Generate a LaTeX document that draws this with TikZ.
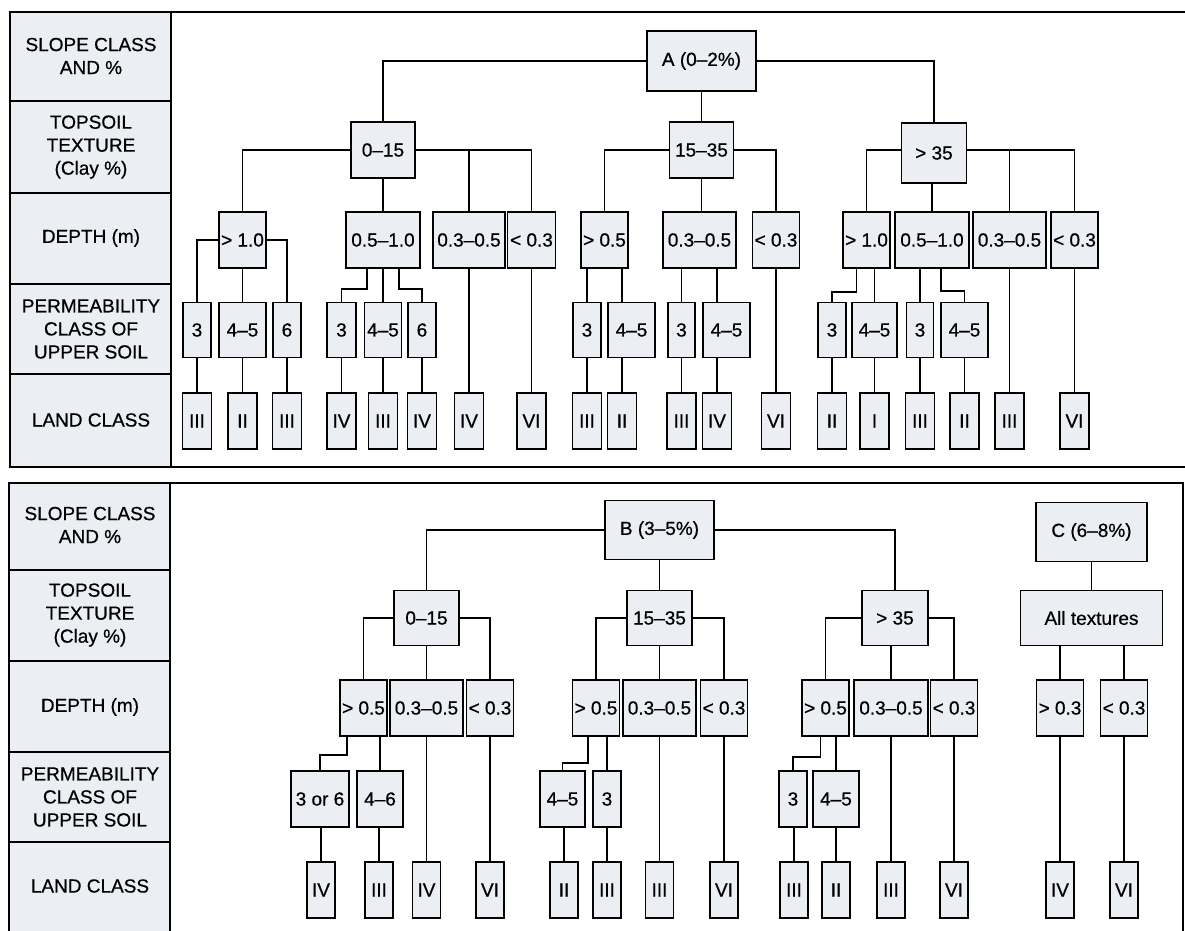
\documentclass[tikz,border=0pt]{standalone}
\usepackage{fontspec}
\setmainfont[FakeBold=0.6]{Liberation Sans}
\usepackage{tikz}
\definecolor{cellgray}{RGB}{235,238,242}
\tikzset{
  cell/.style={draw, line width=1.6pt, fill=cellgray, minimum height=56, inner sep=2pt, outer sep=0pt, font=\fontsize{19}{23}\selectfont},
  head/.style={align=center, font=\fontsize{19}{23}\selectfont},
  link/.style={line width=1.4pt},
  frame/.style={line width=2.4pt}
}

\begin{document}
\begin{tikzpicture}[x=1pt, y=-1pt]
  \useasboundingbox (0,0) rectangle (1185,930);
  % Panels
  \fill[cellgray] (10,12) rectangle (171,467);
  \fill[cellgray] (9,483) rectangle (170,940);
  \draw[frame] (10,12) rectangle (1195,467);
  \draw[frame] (9,483) rectangle (1183,940);
  \draw[frame] (171,12) -- (171,467);
  \draw[frame] (170,483) -- (170,940);
  \foreach \y in {101,193,284,374} \draw[frame] (10,\y) -- (171,\y);
  \foreach \y in {570,661,752,842} \draw[frame] (9,\y) -- (170,\y);
  % Row headings
  \node[head] (h1) at (91,56) {SLOPE CLASS\\AND \%};
  \node[head] (h2) at (91,147) {TOPSOIL\\TEXTURE\\(Clay \%)};
  \node[head] (h3) at (91,238) {DEPTH (m)};
  \node[head] (h4) at (91,329) {PERMEABILITY\\CLASS OF\\UPPER SOIL};
  \node[head] (h5) at (91,420) {LAND CLASS};
  \node[head] (k1) at (90,525) {SLOPE CLASS\\AND \%};
  \node[head] (k2) at (90,615) {TOPSOIL\\TEXTURE\\(Clay \%)};
  \node[head] (k3) at (90,707) {DEPTH (m)};
  \node[head] (k4) at (90,797) {PERMEABILITY\\CLASS OF\\UPPER SOIL};
  \node[head] (k5) at (90,886) {LAND CLASS};

  % Slope A
  \node[cell, minimum width=109, minimum height=60] (A) at (701.5,61) {A (0–2\%)};
  \foreach \n/\x/\t in {t1/383/0–15, t2/701.5/15–35}
    \node[cell, minimum width=64] (\n) at (\x,150) {\t};
  \node[cell, minimum width=65, minimum height=60] (t3) at (934,153) {> 35};
  \foreach \n/\x/\w/\t in {d11/242.5/47/{> 1.0}, d12/383/74/0.5–1.0, d13/469/72/0.3–0.5,
      d14/531.5/48/{< 0.3}, d21/604.5/45/{> 0.5}, d22/699.5/73/0.3–0.5, d23/776/46/{< 0.3},
      d31/866.5/45/{> 1.0}, d32/932/74/0.5–1.0, d33/1009.5/73/0.3–0.5, d34/1074.5/47/{< 0.3}}
    \node[cell, minimum width=\w] (\n) at (\x,240) {\t};
  \foreach \n/\x/\w/\t in {p111/197/28/3, p112/242.5/47/4–5, p113/287/28/6, p121/341.5/29/3,
      p122/383/37/4–5, p123/422/28/6, p211/587/28/3, p212/631.5/47/4–5, p221/681.5/27/3,
      p222/726.5/47/4–5, p311/832/28/3, p312/874.5/45/4–5, p321/920/27/3, p322/964.5/47/4–5}
    \node[cell, minimum width=\w, minimum height=55] (\n) at (\x,330) {\t};
  \foreach \n/\x/\t in {l111/197/III, l112/242.5/II, l113/287/III, l121/341.5/IV, l122/383/III,
      l123/422/IV, l13/469/IV, l14/531.5/VI, l211/587/III, l212/622/II, l221/681.5/III,
      l222/717/IV, l23/776/VI, l311/832/II, l312/874.5/I, l321/920/III, l322/964.5/II,
      l33/1009.5/III, l34/1074.5/VI}
    \node[cell, minimum width=29] (\n) at (\x,421) {\t};

  % Slope to texture
  \draw[link] (A.west) -| (t1.north);
  \draw[link] (A.south) -- (t2.north);
  \draw[link] (A.east) -| (t3.north);
  % Texture to depth
  \draw[link] (t1.west) -| (d11.north);
  \draw[link] (t1.south) -- (d12.north);
  \draw[link] (t1.east) -| (d14.north);
  \draw[link] (d13.north |- t1.east) -- (d13.north);
  \draw[link] (t2.west) -| (d21.north);
  \draw[link] (t2.south) -- (t2.south |- d22.north);
  \draw[link] (t2.east) -| (d23.north);
  \draw[link] ([yshift=3pt]t3.west) -| (d31.north);
  \draw[link] (d32.north |- t3.south) -- (d32.north);
  \draw[link] ([yshift=3pt]t3.east) -| (d34.north);
  \draw[link] (d33.north |- t1.east) -- (d33.north);
  % Depth to permeability
  \draw[link] (d11.west) -| (p111.north);
  \draw[link] (d11.south) -- (p112.north);
  \draw[link] (d11.east) -| (p113.north);
  \draw[link] ([xshift=-16pt]d12.south) -- ++(0,21) -| (p121.north);
  \draw[link] (d12.south) -- (p122.north);
  \draw[link] ([xshift=16pt]d12.south) -- ++(0,21) -| (p123.north);
  \draw[link] (d13.south) -- (l13.north);
  \draw[link] (d14.south) -- (l14.north);
  \draw[link] (p211.north |- d21.south) -- (p211.north);
  \draw[link] (l212.north |- d21.south) -- (l212.north |- p212.north);
  \draw[link] (p221.north |- d22.south) -- (p221.north);
  \draw[link] (l222.north |- d22.south) -- (l222.north |- p222.north);
  \draw[link] (d23.south) -- (l23.north);
  \draw[link] ([xshift=-10pt]d31.south) -- ++(0,24) -| (p311.north);
  \draw[link] (p312.north |- d31.south) -- (p312.north);
  \draw[link] (p321.north |- d32.south) -- (p321.north);
  \draw[link] ([xshift=9pt]d32.south) -- ++(0,23) -| (p322.north);
  \draw[link] (d33.south) -- (l33.north);
  \draw[link] (d34.south) -- (l34.north);
  % Permeability to land class
  \foreach \n in {111,112,113,121,122,123,211,212,221,222,311,312,321,322}
    \draw[link] (l\n.north |- p\n.south) -- (l\n.north);

  % Slopes B and C
  \node[cell, minimum width=109, minimum height=59] (B) at (659.5,530) {B (3–5\%)};
  \node[cell, minimum width=111, minimum height=59] (C) at (1091.5,532) {C (6–8\%)};
  \foreach \n/\x/\w/\t in {u1/426.5/65/0–15, u2/659.5/65/15–35, u3/895/66/{> 35}, ua/1091.5/142/All textures}
    \node[cell, minimum width=\w, minimum height=55] (\n) at (\x,618) {\t};
  \foreach \n/\x/\w/\t in {e11/363.5/45/{> 0.5}, e12/426.5/73/0.3–0.5, e13/490/46/{< 0.3},
      e21/596/46/{> 0.5}, e22/659.5/73/0.3–0.5, e23/724/46/{< 0.3}, e31/825.5/45/{> 0.5},
      e32/891/74/0.3–0.5, e33/954/46/{< 0.3}, ec1/1060/47/{> 0.3}, ec2/1124/47/{< 0.3}}
    \node[cell, minimum width=\w] (\n) at (\x,708) {\t};
  \foreach \n/\x/\w/\t in {q111/320/58/3 or 6, q112/380/46/4–6, q211/562.5/45/4–5, q212/607/28/3,
      q311/793/28/3, q312/836/46/4–5}
    \node[cell, minimum width=\w] (\n) at (\x,799) {\t};
  \foreach \n/\x/\t in {m111/321/IV, m112/379/III, m12/426.5/IV, m13/490/VI, m211/564/II,
      m212/607/III, m22/659.5/III, m23/724/VI, m311/794/III, m312/836/II, m32/891/III,
      m33/954/VI, mc1/1060/IV, mc2/1124/VI}
    \node[cell, minimum width=28] (\n) at (\x,890) {\t};

  % Slope to texture
  \draw[link] (B.west) -| (u1.north);
  \draw[link] (B.south) -- (u2.north);
  \draw[link] (B.east) -| (u3.north);
  \draw[link] (C.south) -- (ua.north);
  % Texture to depth
  \draw[link] (u1.west) -| (e11.north);
  \draw[link] (u1.south) -- (e12.north);
  \draw[link] (u1.east) -| (e13.north);
  \draw[link] (u2.west) -| (e21.north);
  \draw[link] (u2.south) -- (e22.north);
  \draw[link] (u2.east) -| (e23.north);
  \draw[link] (u3.west) -| (e31.north);
  \draw[link] (e32.north |- u3.south) -- (e32.north);
  \draw[link] (u3.east) -| (e33.north);
  \draw[link] (ec1.north |- ua.south) -- (ec1.north);
  \draw[link] (ec2.north |- ua.south) -- (ec2.north);
  % Depth to permeability
  \draw[link] ([xshift=-16.5pt]e11.south) -- ++(0,19) -| (q111.north);
  \draw[link] (q112.north |- e11.south) -- (q112.north);
  \draw[link] (e12.south) -- (m12.north);
  \draw[link] (e13.south) -- (m13.north);
  \draw[link] ([xshift=-8pt]e21.south) -- ++(0,27) -| (q211.north);
  \draw[link] (q212.north |- e21.south) -- (q212.north);
  \draw[link] (e22.south) -- (m22.north);
  \draw[link] (e23.south) -- (m23.north);
  \draw[link] ([xshift=-5pt]e31.south) -- ++(0,21) -| (q311.north);
  \draw[link] (q312.north |- e31.south) -- (q312.north);
  \draw[link] (e32.south) -- (m32.north);
  \draw[link] (e33.south) -- (m33.north);
  \draw[link] (ec1.south) -- (mc1.north);
  \draw[link] (ec2.south) -- (mc2.north);
  % Permeability to land class
  \foreach \n in {111,112,211,212,311,312}
    \draw[link] (m\n.north |- q\n.south) -- (m\n.north);
\end{tikzpicture}
\end{document}
